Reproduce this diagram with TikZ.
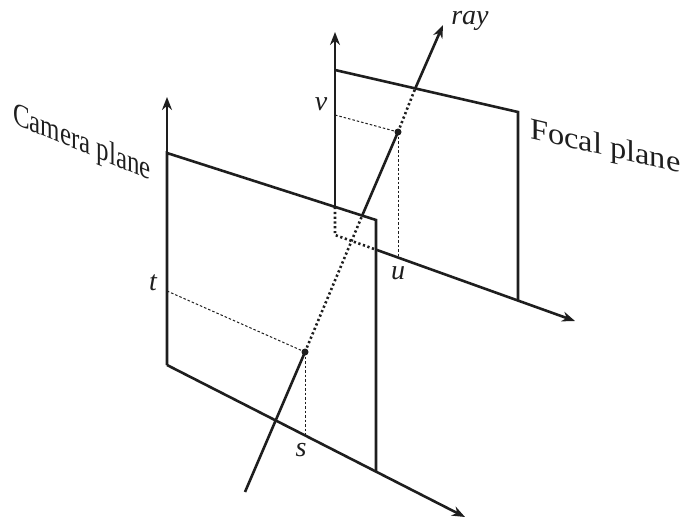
\documentclass[tikz,border=0pt]{standalone}
\usepackage{fontspec}
\setmainfont{Liberation Serif}
\usetikzlibrary{arrows.meta}
\definecolor{ink}{HTML}{1E1E1E}
\begin{document}
\begin{tikzpicture}[x=1pt,y=-1pt,
  edge/.style={draw=ink, line width=2.6pt},
  axis/.style={draw=ink, line width=2.6pt, -{Stealth[length=13pt,width=10pt]}},
  hidden/.style={draw=ink, line width=2.6pt, dash pattern=on 2.2pt off 2.6pt},
  guide/.style={draw=ink, line width=1pt, dash pattern=on 2.5pt off 2pt},
  pt/.style={circle, fill=ink, inner sep=0pt, minimum size=7pt},
  lbl/.style={text=ink, font=\fontsize{28}{30}\selectfont\itshape, inner sep=0pt}]
\useasboundingbox (0,0) rectangle (686,520);
% camera plane
\coordinate (c0) at (167,365);
\coordinate (c1) at (167,153);
\coordinate (c2) at (376,220);
\coordinate (c3) at (376,472);
\coordinate (cy) at (167,97);
\coordinate (cx) at (465,517);
% focal plane
\coordinate (f0) at (335,235);
\coordinate (fv) at (335,207);
\coordinate (f1) at (335,70);
\coordinate (f2) at (518,112);
\coordinate (f3) at (518,300);
\coordinate (fb) at (377,250);
\coordinate (fy) at (335,32);
\coordinate (fx) at (575,321);
% ray
\coordinate (r0) at (245,492);
\node[pt] (p) at (305,352) {};
\coordinate (r1) at (362,216);
\node[pt] (q) at (398,132) {};
\coordinate (r2) at (415,89);
\coordinate (r3) at (443,25);
% axis points
\coordinate (tp) at (167,291);
\coordinate (sp) at (305,435);
\coordinate (vp) at (335,115);
\coordinate (up) at (398,257);

% camera plane
\draw[axis] (c1) -- (cy);
\draw[edge] (c0) -- (c1) -- (c2) -- (c3);
\draw[axis] (c0) -- (cx);
% focal plane
\draw[axis] (fv) -- (fy);
\draw[edge] (f1) -- (f2) -- (f3);
\draw[hidden] (fv) -- (f0) -- (fb);
\draw[axis] (fb) -- (fx);
% guides
\draw[guide] (tp) -- (p.center);
\draw[guide] (p.center) -- (sp);
\draw[guide] (vp) -- (q.center);
\draw[guide] (q.center) -- (up);
% ray
\draw[edge] (r0) -- (p.center);
\draw[hidden] (p.center) -- (r1);
\draw[edge] (r1) -- (q.center);
\draw[hidden] (q.center) -- (r2);
\draw[axis] (r2) -- (r3);

% labels
\node[lbl] (lt) at (153,283) {t};
\node[lbl] (ls) at (301,450) {s};
\node[lbl] (lv) at (321,104) {v};
\node[lbl] (lu) at (398,273) {u};
\node[lbl, anchor=base] (lr) at (470,24) {ray};
\node[text=ink, font=\fontsize{29}{32}\selectfont, inner sep=0pt, anchor=base west, xscale=0.86, yscale=1.12, yslant=-0.32] (cam) at (13,123) {Camera plane};
\node[text=ink, font=\fontsize{27}{30}\selectfont, inner sep=0pt, anchor=base west, xscale=1.2, yscale=1.12, yslant=-0.25] (foc) at (530,138) {Focal plane};
\end{tikzpicture}
\end{document}
